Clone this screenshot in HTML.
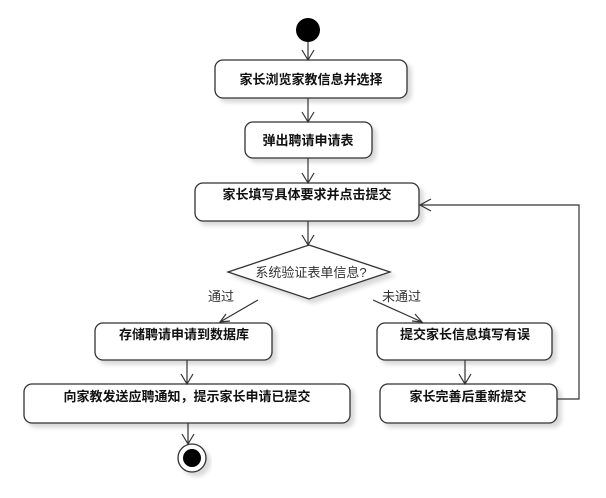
<!DOCTYPE html>
<html><head><meta charset="utf-8"><style>
body{margin:0;background:#fff}
svg{display:block}
.b{font-family:"Liberation Sans","Noto Sans CJK SC",sans-serif;font-weight:bold;font-size:13px;fill:#111}
.n{font-family:"Liberation Sans","Noto Sans CJK SC",sans-serif;font-size:13px;fill:#333}
</style></head><body>
<svg width="606" height="498" viewBox="0 0 606 498" xmlns="http://www.w3.org/2000/svg">
<defs><filter id="s" x="-10%" y="-10%" width="130%" height="140%"><feDropShadow dx="4" dy="4" stdDeviation="2" flood-color="#000" flood-opacity="0.15"/></filter></defs>
<g fill="#fff" stroke="#333" stroke-width="1.3" filter="url(#s)">
<rect x="215" y="60" width="192" height="38" rx="8"/>
<rect x="245" y="122" width="127" height="36" rx="8"/>
<rect x="195" y="183" width="224" height="38" rx="8"/>
<polygon points="309,245 390,272 309,299 228,272"/>
<rect x="95" y="323" width="177" height="37" rx="8"/>
<rect x="377" y="323" width="175" height="37" rx="8"/>
<rect x="24" y="384" width="326" height="39" rx="8"/>
<rect x="380" y="384" width="177" height="39" rx="8"/>
</g>
<circle cx="308" cy="30" r="12" fill="#000"/>
<circle cx="192" cy="458" r="14" fill="#fff" stroke="#333" stroke-width="1.3" filter="url(#s)"/>
<circle cx="192" cy="458" r="9" fill="#000"/>
<g stroke="#333" stroke-width="1.2" fill="none">
<path d="M308 42V60M302 50l6 10l6-10"/>
<path d="M308 98V122M302 112l6 10l6-10"/>
<path d="M308 158V183M302 173l6 10l6-10"/>
<path d="M308 221V245M302 235l6 10l6-10"/>
<path d="M258 300L220 322M226 314l-6 8l10-1"/>
<path d="M373 300L422 322M412 321l10 1l-7-8"/>
<path d="M187 360V384M181 374l6 10l6-10"/>
<path d="M465 360V384M459 374l6 10l6-10"/>
<path d="M188 423V444M182 434l6 10l6-10"/>
<path d="M557 399H579V205H420M431 199l-11 6l11 6"/>
</g>
<text class="b" x="311" y="84" text-anchor="middle">家长浏览家教信息并选择</text>
<text class="b" x="308" y="145" text-anchor="middle">弹出聘请申请表</text>
<text class="b" x="307" y="199" text-anchor="middle">家长填写具体要求并点击提交</text>
<text class="n" x="311" y="277" text-anchor="middle">系统验证表单信息?</text>
<text class="n" x="208" y="301">通过</text>
<text class="n" x="382" y="301">未通过</text>
<text class="b" x="184" y="339" text-anchor="middle">存储聘请申请到数据库</text>
<text class="b" x="465" y="339" text-anchor="middle">提交家长信息填写有误</text>
<text class="b" x="187" y="401" text-anchor="middle">向家教发送应聘通知，提示家长申请已提交</text>
<text class="b" x="468" y="401" text-anchor="middle">家长完善后重新提交</text>
</svg>
</body></html>
